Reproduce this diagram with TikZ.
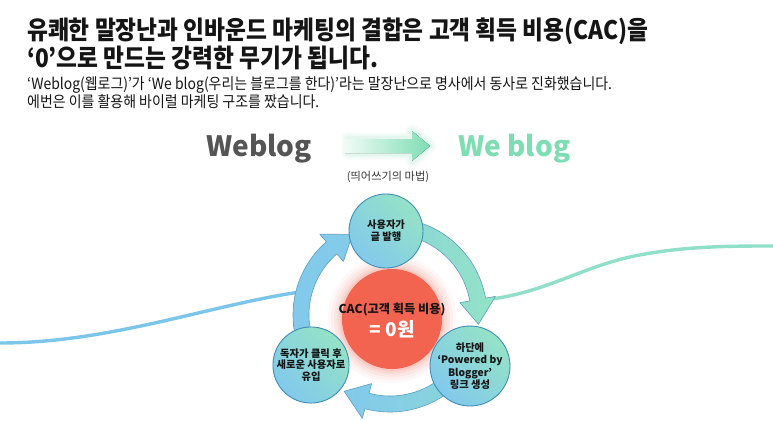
\documentclass[tikz,border=0pt]{standalone}
\usepackage{fontspec}
\setmainfont{Noto Sans CJK KR}
\newfontfamily\titlef{Noto Sans CJK KR}[FakeStretch=0.89]
\newfontfamily\subf{Noto Sans CJK KR}[FakeStretch=0.9]
\definecolor{ctext}{HTML}{151515}
\definecolor{cblue}{HTML}{82C9EC}
\definecolor{cmint}{HTML}{94E3C6}
\definecolor{cedge}{HTML}{3F8FB4}
\definecolor{cared}{HTML}{F26350}
\definecolor{cwaveb}{HTML}{7CC5EA}
\definecolor{cwavem}{HTML}{90DFC8}
\definecolor{cgrayw}{HTML}{555555}
\definecolor{cgreenw}{HTML}{7EDDB3}
\def\RAcx{390}\def\RAcy{315}
\def\RAr{89}\def\RAo{97}\def\RAi{81}\def\RAw{107}\def\RAn{71}
\newcommand{\ringarrow}[3]{%
  \pgfmathsetmacro{\RAhb}{#2-16}%
  \draw[#3] plot[domain=#1:\RAhb, samples=40] ({\RAcx+\RAo*cos(\x)},{\RAcy+\RAo*sin(\x)})
   -- ({\RAcx+\RAw*cos(\RAhb)},{\RAcy+\RAw*sin(\RAhb)})
   -- ({\RAcx+\RAr*cos(#2)},{\RAcy+\RAr*sin(#2)})
   -- ({\RAcx+\RAn*cos(\RAhb)},{\RAcy+\RAn*sin(\RAhb)})
   -- plot[domain=\RAhb:#1, samples=40] ({\RAcx+\RAi*cos(\x)},{\RAcy+\RAi*sin(\x)}) -- cycle;}
\begin{document}
\begin{tikzpicture}[x=1pt,y=-1pt,
  circnode/.style={circle, draw=cedge, line width=0.9pt, top color=cmint, bottom color=cblue, shading angle=-45,
     align=center, text=ctext, inner sep=0pt, minimum size=74pt,
     font=\bfseries\fontsize{10.3}{12}\selectfont},
  ringsty/.style={draw=cedge!85, line width=0.6pt, line join=round},
  wave/.style={line width=3.4pt, line cap=round},
  titlesty/.style={anchor=base west, inner sep=0pt, text=ctext, font=\titlef\bfseries\fontsize{25.5}{30}\selectfont},
  substy/.style={anchor=base west, inner sep=0pt, text=ctext, font=\subf\fontsize{15.5}{18}\selectfont}
]
\useasboundingbox (0,0) rectangle (773,420);
\fill[white] (0,0) rectangle (773,420);

% titles
\node[titlesty] (t1) at (27,40) {유쾌한 말장난과 인바운드 마케팅의 결합은 고객 획득 비용(CAC)을};
\node[titlesty] (t2) at (27,67) {‘0’으로 만드는 강력한 무기가 됩니다.};
\node[substy] (s1) at (27,89) {‘Weblog(웹로그)’가 ‘We blog(우리는 블로그를 한다)’라는 말장난으로 명사에서 동사로 진화했습니다.};
\node[substy] (s2) at (27,107) {에번은 이를 활용해 바이럴 마케팅 구조를 짰습니다.};

% Weblog -> We blog
\node[anchor=base west, inner sep=0pt, text=cgrayw, font=\bfseries\fontsize{28}{32}\selectfont] (wl) at (206,156) {Weblog};
\node[anchor=base west, inner sep=0pt, text=cgreenw, font=\bfseries\fontsize{28}{32}\selectfont] (wb) at (458,156) {We blog};
\foreach \w/\o in {14/0.05,10/0.07,6/0.09}
  \draw[cgreenw, line width=\w pt, opacity=\o, line join=round]
    (348,139) -- (412,139) -- (412,131) -- (430,146) -- (412,161) -- (412,153) -- (348,153) -- cycle;
\fill[left color=cgreenw!12, right color=cgreenw]
    (345,139) -- (412,139) -- (412,131) -- (430,146) -- (412,161) -- (412,153) -- (345,153) -- cycle;
\node[font=\fontsize{11.2}{13}\selectfont, text=ctext!85, inner sep=0pt] (magic) at (388,177) {(띄어쓰기의 마법)};

% background waves
\draw[wave, cwaveb] (0,343) .. controls (110,343) and (210,305) .. (300,292);
\draw[wave, cwavem] (482,300) .. controls (540,295) and (580,268) .. (630,257) .. controls (680,246) and (730,246) .. (773,246);

% ring arrows
\ringarrow{-75}{6}{ringsty, left color=cblue!45!cmint, right color=cmint}
\ringarrow{45}{121}{ringsty, left color=cblue, right color=cblue!55!cmint}
\ringarrow{165}{245}{ringsty, left color=cblue, right color=cblue!90!cmint}

% central red circle with glow
\foreach \r/\o in {64/0.04,61/0.05,58/0.07,55/0.09,52.5/0.12}
  \fill[cared, opacity=\o] (392,319) circle (\r pt);
\node[circle, fill=cared, minimum size=100pt, inner sep=0pt] (cac) at (392,319) {};
\node[font=\bfseries\fontsize{12.2}{14}\selectfont, text=ctext, inner sep=0pt] (cac1) at (392,310) {CAC(고객 획득 비용)};
\node[font=\bfseries\fontsize{19}{21}\selectfont, text=white, inner sep=0pt] (cac2) at (392,329) {= 0원};

% step circles
\node[circnode] (pub) at (386,231) {사용자가\\글 발행};
\node[circnode, font=\bfseries\fontsize{10.3}{12.3}\selectfont] (link) at (470,366) {하단에\\‘Powered by\\Blogger’\\링크 생성};
\node[circnode, font=\bfseries\fontsize{10.3}{11.7}\selectfont] (visit) at (311,365) {독자가 클릭 후\\새로운 사용자로\\유입};
\end{tikzpicture}
\end{document}
